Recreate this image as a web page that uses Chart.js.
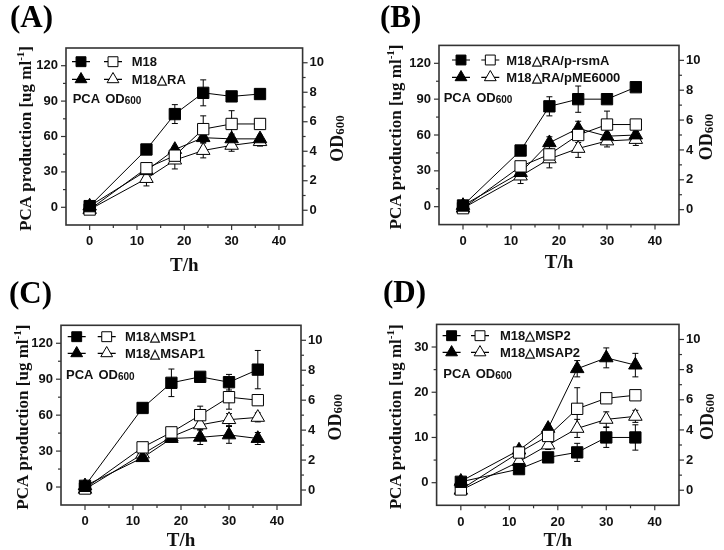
<!DOCTYPE html>
<html><head><meta charset="utf-8">
<script src="https://cdn.jsdelivr.net/npm/chart.js@4.4.1/dist/chart.umd.min.js"></script>
<style>
html,body{margin:0;padding:0;background:#fff;}
#wrap{position:relative;width:724px;height:550px;overflow:hidden;background:#fff;}
.panel{position:absolute;width:362px;height:275px;}
.panel canvas{position:absolute;left:0;top:0;}
.tag{position:absolute;font:bold 31px "Liberation Serif","Times New Roman",serif;line-height:30px;color:#000;}
</style></head><body>
<div id="wrap">
 <div class="panel" style="left:0;top:0"><canvas id="cA" width="362" height="275"></canvas><div class="tag" style="left:10px;top:2px">(A)</div></div>
 <div class="panel" style="left:362px;top:0"><canvas id="cB" width="362" height="275"></canvas><div class="tag" style="left:18px;top:2px">(B)</div></div>
 <div class="panel" style="left:0;top:275px"><canvas id="cC" width="362" height="275"></canvas><div class="tag" style="left:9px;top:3px">(C)</div></div>
 <div class="panel" style="left:362px;top:275px"><canvas id="cD" width="362" height="275"></canvas><div class="tag" style="left:21px;top:2px">(D)</div></div>
</div>
<script>
// ---------- data ----------
const hours = [0, 12, 18, 24, 30, 36];
const xTickLabels = [0, 10, 20, 30, 40];
const pcaTickLabels = [0, 30, 60, 90, 120];
const pcaTickLabelsD = [0, 10, 20, 30];
const odTickLabels = [0, 2, 4, 6, 8, 10];

// Panel A
const A_names = ['M18', 'M18\u25B3RA'];
const A_pca1 = [1, 49, 79, 97, 94, 96];
const A_pca1Err = [1, 2, 8, 11, 2, 3];
const A_od1 = [0.05, 2.85, 3.7, 5.5, 5.85, 5.85];
const A_od1Err = [0.05, 0.3, 0.3, 0.9, 0.9, 0.2];
const A_pca2 = [1, 31, 49, 59, 58, 58];
const A_pca2Err = [1, 2, 2, 3, 4, 3];
const A_od2 = [0.05, 2.15, 3.4, 4.05, 4.4, 4.65];
const A_od2Err = [0.05, 0.5, 0.6, 0.5, 0.4, 0.3];

// Panel B
const B_names = ['M18\u25B3RA/p-rsmA', 'M18\u25B3RA/pME6000'];
const B_pca1 = [1, 47, 84, 90, 90, 100];
const B_pca1Err = [1, 2, 8, 11, 2, 3];
const B_od1 = [0.1, 2.9, 3.7, 5.0, 5.7, 5.7];
const B_od1Err = [0.05, 0.3, 0.3, 0.5, 0.9, 0.3];
const B_pca2 = [1, 28.5, 53.5, 65.5, 59, 60];
const B_pca2Err = [1, 3, 5, 6, 3, 3];
const B_od2 = [0.1, 2.25, 3.4, 4.1, 4.6, 4.7];
const B_od2Err = [0.05, 0.5, 0.6, 0.6, 0.4, 0.4];

// Panel C
const C_names = ['M18\u25B3MSP1', 'M18\u25B3MSAP1'];
const C_pca1 = [1, 66, 87, 92, 87.5, 98];
const C_pca1Err = [1, 1, 11.5, 2, 6.5, 16];
const C_od1 = [0.1, 2.85, 3.85, 5.0, 6.2, 6.0];
const C_od1Err = [0.05, 0.3, 0.3, 0.6, 0.8, 0.2];
const C_pca2 = [1, 24.5, 40.5, 41.5, 43.5, 40.5];
const C_pca2Err = [1, 3, 3, 6, 7, 5];
const C_od2 = [0.05, 2.4, 3.55, 4.35, 4.7, 4.85];
const C_od2Err = [0.05, 0.3, 0.3, 0.3, 0.4, 0.3];

// Panel D
const D_names = ['M18\u25B3MSP2', 'M18\u25B3MSAP2'];
const D_pca1 = [0.2, 3.0, 5.6, 6.7, 10.0, 10.0];
const D_pca1Err = [0.2, 0.5, 0.8, 2, 2.2, 2.8];
const D_od1 = [0.05, 2.5, 3.6, 5.4, 6.1, 6.3];
const D_od1Err = [0.05, 0.2, 0.2, 1.4, 0.2, 0.2];
const D_pca2 = [0.3, 7.2, 12, 25.2, 27.6, 26];
const D_pca2Err = [0.3, 0.5, 0.6, 1.8, 2.2, 2.6];
const D_od2 = [0.0, 1.9, 3.0, 4.1, 4.7, 4.9];
const D_od2Err = [0.05, 0.2, 0.3, 0.6, 0.5, 0.4];

// ---------- layout / style per panel ----------
const panels = [
  { id: 'cA', names: A_names, s: [A_pca1, A_od1, A_pca2, A_od2], e: [A_pca1Err, A_od1Err, A_pca2Err, A_od2Err],
    yMin: -15, yMax: 135, yStep: 15, yLabels: pcaTickLabels,
    area: { l: 66, r: 302.6, t: 48, b: 225 },
    lg: { m1: 15, m2: 47, text: 65.7, rows: [13.7, 31.3], pcaX: 6.7, pcaY: 49.7 },
    ltOff: -41, rtOff: 34, xtY: 265 },
  { id: 'cB', names: B_names, s: [B_pca1, B_od1, B_pca2, B_od2], e: [B_pca1Err, B_od1Err, B_pca2Err, B_od2Err],
    yMin: -15, yMax: 135, yStep: 15, yLabels: pcaTickLabels,
    area: { l: 77, r: 317, t: 45.4, b: 224.6 },
    lg: { m1: 22, m2: 51.3, text: 67.3, rows: [14.6, 31.9], pcaX: 4.7, pcaY: 51.3 },
    ltOff: -44, rtOff: 27, xtY: 262 },
  { id: 'cC', names: C_names, s: [C_pca1, C_od1, C_pca2, C_od2], e: [C_pca1Err, C_od1Err, C_pca2Err, C_od2Err],
    yMin: -15, yMax: 135, yStep: 15, yLabels: pcaTickLabels,
    area: { l: 61, r: 301, t: 50.3, b: 230 },
    lg: { m1: 15.7, m2: 45.7, text: 64, rows: [11.4, 28], pcaX: 5, pcaY: 49 },
    ltOff: -39, rtOff: 34, xtY: 265 },
  { id: 'cD', names: D_names, s: [D_pca1, D_od1, D_pca2, D_od2], e: [D_pca1Err, D_od1Err, D_pca2Err, D_od2Err],
    yMin: -5, yMax: 35, yStep: 5, yLabels: pcaTickLabelsD,
    area: { l: 74.6, r: 317, t: 49.4, b: 230.3 },
    lg: { m1: 15, m2: 43.4, text: 63.4, rows: [11.3, 28], pcaX: 6.7, pcaY: 49 },
    ltOff: -42, rtOff: 28, xtY: 265 }
];

const SERIF = '"Liberation Serif","Times New Roman",serif';
const SANS = '"Liberation Sans",Arial,sans-serif';
Chart.defaults.font.family = SANS;
Chart.defaults.color = '#111';

const seriesStyle = [
  { style: 'rect', fill: '#000', axis: 'y', r: 8 },
  { style: 'rect', fill: '#fff', axis: 'y1', r: 8 },
  { style: 'triangle', fill: '#000', axis: 'y', r: 7.8 },
  { style: 'triangle', fill: '#fff', axis: 'y1', r: 7.8 }
];

function drawMarker(ctx, style, x, y, r, fill) {
  ctx.beginPath();
  if (style === 'rect') {
    const s = Math.SQRT1_2 * r;
    ctx.rect(x - s, y - s, 2 * s, 2 * s);
  } else {
    let a = 0;
    ctx.moveTo(x + Math.sin(a) * r, y - Math.cos(a) * r);
    a += 2 * Math.PI / 3;
    ctx.lineTo(x + Math.sin(a) * r, y - Math.cos(a) * r);
    a += 2 * Math.PI / 3;
    ctx.lineTo(x + Math.sin(a) * r, y - Math.cos(a) * r);
    ctx.closePath();
  }
  ctx.fillStyle = fill;
  ctx.fill();
  ctx.lineWidth = 1;
  ctx.strokeStyle = '#000';
  ctx.stroke();
}

function drawParts(ctx, parts, cx, cy) {
  let total = 0;
  parts.forEach(p => { ctx.font = p.font; p.w = ctx.measureText(p.t).width; total += p.w; });
  let x = cx - total / 2;
  ctx.textAlign = 'left';
  ctx.textBaseline = 'alphabetic';
  parts.forEach(p => { ctx.font = p.font; ctx.fillText(p.t, x, cy + (p.dy || 0)); x += p.w; });
}

function makeDecor(P) {
  return {
    id: 'decor',
    beforeDatasetsDraw(chart) {
      const ctx = chart.ctx;
      ctx.save();
      ctx.strokeStyle = '#000';
      ctx.lineWidth = 1;
      chart.data.datasets.forEach((ds, i) => {
        const meta = chart.getDatasetMeta(i);
        const sc = chart.scales[ds.yAxisID];
        const err = P.e[i];
        ds.data.forEach((pt, j) => {
          const px = meta.data[j].x;
          const yt = sc.getPixelForValue(pt.y + err[j]);
          const yb = sc.getPixelForValue(pt.y - err[j]);
          ctx.beginPath();
          ctx.moveTo(px, yt); ctx.lineTo(px, yb);
          ctx.moveTo(px - 3, yt); ctx.lineTo(px + 3, yt);
          ctx.moveTo(px - 3, yb); ctx.lineTo(px + 3, yb);
          ctx.stroke();
        });
      });
      ctx.restore();
    },
    afterDraw(chart) {
      const ctx = chart.ctx;
      const a = chart.chartArea;
      ctx.save();
      // frame
      ctx.strokeStyle = '#333';
      ctx.lineWidth = 1.6;
      ctx.strokeRect(a.left, a.top, a.right - a.left, a.bottom - a.top);
      // ticks
      ctx.lineWidth = 1.2;
      const drawTicks = (sc, side) => {
        sc.ticks.forEach(tk => {
          if (tk.value <= sc.min || tk.value >= sc.max) return;
          const p = sc.getPixelForValue(tk.value);
          const len = tk.label !== '' ? 5 : 3;
          ctx.beginPath();
          if (side === 'bottom') { ctx.moveTo(p, a.bottom); ctx.lineTo(p, a.bottom + len); }
          else if (side === 'left') { ctx.moveTo(a.left, p); ctx.lineTo(a.left - len, p); }
          else { ctx.moveTo(a.right, p); ctx.lineTo(a.right + len, p); }
          ctx.stroke();
        });
      };
      drawTicks(chart.scales.x, 'bottom');
      drawTicks(chart.scales.y, 'left');
      drawTicks(chart.scales.y1, 'right');
      // axis titles
      ctx.fillStyle = '#111';
      const cy = (a.top + a.bottom) / 2;
      ctx.save();
      ctx.translate(a.left + P.ltOff, cy + 2);
      ctx.rotate(-Math.PI / 2);
      drawParts(ctx, [
        { t: 'PCA production [ug ml', font: 'bold 17px ' + SERIF },
        { t: '-1', font: 'bold 11px ' + SERIF, dy: -7 },
        { t: ']', font: 'bold 17px ' + SERIF }
      ], 0, 6);
      ctx.restore();
      ctx.save();
      ctx.translate(a.right + P.rtOff, cy + 2);
      ctx.rotate(-Math.PI / 2);
      drawParts(ctx, [
        { t: 'OD', font: 'bold 18px ' + SERIF },
        { t: '600', font: 'bold 13px ' + SERIF, dy: 1 }
      ], 0, 6);
      ctx.restore();
      drawParts(ctx, [{ t: 'T/h', font: 'bold 19px ' + SERIF }], (a.left + a.right) / 2, P.xtY + 6);
      // legend
      ctx.textBaseline = 'middle';
      [0, 1].forEach(r => {
        const y = a.top + P.lg.rows[r];
        const f = seriesStyle[r * 2], o = seriesStyle[r * 2 + 1];
        const x1 = a.left + P.lg.m1, x2 = a.left + P.lg.m2;
        ctx.strokeStyle = '#000'; ctx.lineWidth = 1.2;
        ctx.beginPath(); ctx.moveTo(x1 - 9, y); ctx.lineTo(x1 + 9, y); ctx.moveTo(x2 - 9, y); ctx.lineTo(x2 + 9, y); ctx.stroke();
        drawMarker(ctx, f.style, x1, y, f.r - 1, f.fill);
        drawMarker(ctx, o.style, x2, y, o.r - 1, o.fill);
        ctx.fillStyle = '#111';
        ctx.font = 'bold 13px ' + SANS;
        ctx.textAlign = 'left';
        ctx.fillText(P.names[r], a.left + P.lg.text, y + 1);
      });
      ctx.textBaseline = 'alphabetic';
      let px = a.left + P.lg.pcaX;
      const py = a.top + P.lg.pcaY + 5;
      ctx.font = 'bold 13px ' + SANS;
      ctx.fillText('PCA', px, py);
      px += ctx.measureText('PCA').width + 5;
      ctx.fillText('OD', px, py);
      px += ctx.measureText('OD').width;
      ctx.font = 'bold 10px ' + SANS;
      ctx.fillText('600', px, py + 1);
      ctx.restore();
    }
  };
}

panels.forEach(P => {
  const datasets = seriesStyle.map((st, i) => ({
    data: hours.map((h, j) => ({ x: h, y: P.s[i][j] })),
    yAxisID: st.axis,
    borderColor: '#000',
    borderWidth: 1,
    pointStyle: st.style,
    pointRadius: st.r,
    pointBackgroundColor: st.fill,
    pointBorderColor: '#000',
    pointBorderWidth: 1,
    tension: 0,
    fill: false
  }));
  const W = 362, H = 275;
  new Chart(document.getElementById(P.id), {
    type: 'line',
    data: { datasets },
    options: {
      responsive: false,
      animation: false,
      events: [],
      layout: { padding: { top: P.area.t, left: 0, right: 0, bottom: 0 } },
      plugins: { legend: { display: false }, tooltip: { enabled: false }, title: { display: false } },
      scales: {
        x: {
          type: 'linear', position: 'bottom', min: -5, max: 45,
          grid: { display: false, drawTicks: false }, border: { display: false },
          ticks: { stepSize: 5, autoSkip: false, maxRotation: 0, padding: 9,
            font: { size: 13, weight: 'bold' }, color: '#111',
            callback: v => xTickLabels.includes(v) ? String(v) : '' },
          afterFit: s => { s.height = H - P.area.b; }
        },
        y: {
          type: 'linear', position: 'left', min: P.yMin, max: P.yMax,
          grid: { display: false, drawTicks: false }, border: { display: false },
          ticks: { stepSize: P.yStep, autoSkip: false, padding: 8,
            font: { size: 13, weight: 'bold' }, color: '#111',
            callback: v => P.yLabels.includes(v) ? String(v) : '' },
          afterFit: s => { s.width = P.area.l; }
        },
        y1: {
          type: 'linear', position: 'right', min: -1, max: 11,
          grid: { display: false, drawTicks: false }, border: { display: false },
          ticks: { stepSize: 1, autoSkip: false, padding: 7,
            font: { size: 13, weight: 'bold' }, color: '#111',
            callback: v => odTickLabels.includes(v) ? String(v) : '' },
          afterFit: s => { s.width = W - P.area.r; }
        }
      }
    },
    plugins: [makeDecor(P)]
  });
});
</script>
</body></html>
